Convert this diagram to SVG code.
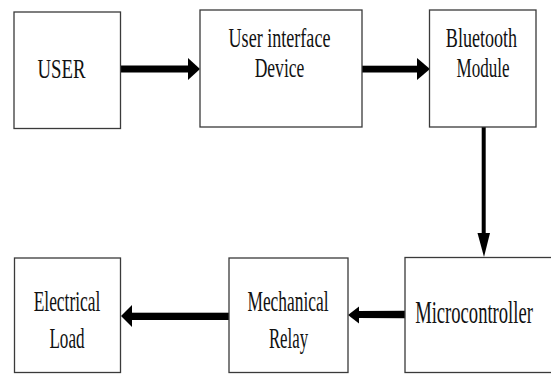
<svg xmlns="http://www.w3.org/2000/svg" width="551" height="374" viewBox="0 0 551 374">
<style>
.box{fill:#fff;stroke:#3a3a3a;stroke-width:1.3}
.t{font-family:"Liberation Serif","Times New Roman",serif;fill:#111;text-anchor:middle}
.top{font-size:27px}
.bot{font-size:29px}
.conn{fill:#000;stroke:none}
</style>
<rect width="551" height="374" fill="#fff"/>
<g id="connectors">
<rect class="conn" x="120.5" y="65.5" width="68.5" height="7"/>
<polygon class="conn" points="188,58 200,69 188,80"/>
<rect class="conn" x="362" y="65.7" width="56" height="6.8"/>
<polygon class="conn" points="417,58 430,69 417,80"/>
<rect class="conn" x="481.7" y="127" width="4" height="108"/>
<polygon class="conn" points="477.5,233 490,233 484,257"/>
<polygon class="conn" points="405,310.7 405,318.3 358,318 358,311"/>
<polygon class="conn" points="359,306.5 359,323.5 348,315"/>
<rect class="conn" x="131" y="312.7" width="98" height="7.3"/>
<polygon class="conn" points="132,305 132,327 121,316"/>
</g>
<g id="user">
<rect class="box" x="14" y="12" width="106.5" height="116.5"/>
<text class="t" font-size="28" transform="translate(61.5,78) scale(0.67,1)">USER</text>
</g>
<g id="ui-device">
<rect class="box" x="200" y="10" width="162" height="117"/>
<text class="t top" transform="translate(279.5,46.5) scale(0.67,1)">User interface</text>
<text class="t top" transform="translate(279.5,76.5) scale(0.65,1)">Device</text>
</g>
<g id="bluetooth">
<rect class="box" x="429.5" y="10" width="106.5" height="117"/>
<text class="t top" transform="translate(481.5,46.5) scale(0.67,1)">Bluetooth</text>
<text class="t top" transform="translate(483,76.5) scale(0.63,1)">Module</text>
</g>
<g id="microcontroller">
<rect class="box" x="405" y="257.5" width="160" height="115"/>
<text class="t" font-size="31" transform="translate(474,323) scale(0.6,1)">Microcontroller</text>
</g>
<g id="relay">
<rect class="box" x="229" y="258" width="119" height="114.5"/>
<text class="t bot" transform="translate(288,311) scale(0.6,1)">Mechanical</text>
<text class="t bot" transform="translate(288.5,348) scale(0.58,1)">Relay</text>
</g>
<g id="load">
<rect class="box" x="14.5" y="258" width="106" height="114.5"/>
<text class="t bot" transform="translate(67,311) scale(0.6,1)">Electrical</text>
<text class="t bot" transform="translate(67,348) scale(0.59,1)">Load</text>
</g>
</svg>
